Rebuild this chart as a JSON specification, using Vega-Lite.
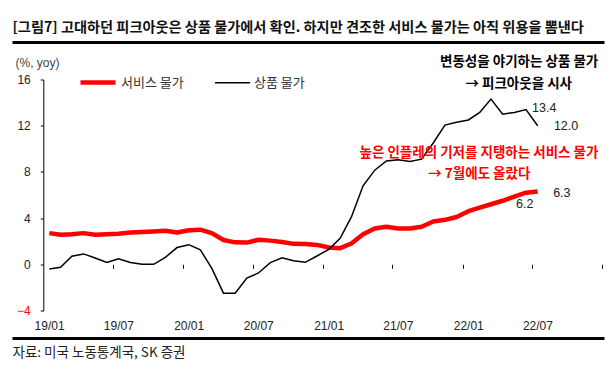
{
  "$schema": "https://vega.github.io/schema/vega-lite/v6.json",
  "autosize": "none",
  "width": 592,
  "height": 231,
  "padding": {"left": 12, "top": 79.5, "right": 10, "bottom": 59.5},
  "background": "white",
  "config": {"view": {"stroke": null}, "axis": {"grid": false}},
  "datasets": {
    "cpi": [
      {"month": "2019-01", "series": "서비스 물가", "value": 2.7},
      {"month": "2019-02", "series": "서비스 물가", "value": 2.55},
      {"month": "2019-03", "series": "서비스 물가", "value": 2.6},
      {"month": "2019-04", "series": "서비스 물가", "value": 2.7},
      {"month": "2019-05", "series": "서비스 물가", "value": 2.55},
      {"month": "2019-06", "series": "서비스 물가", "value": 2.6},
      {"month": "2019-07", "series": "서비스 물가", "value": 2.65},
      {"month": "2019-08", "series": "서비스 물가", "value": 2.75},
      {"month": "2019-09", "series": "서비스 물가", "value": 2.8},
      {"month": "2019-10", "series": "서비스 물가", "value": 2.85},
      {"month": "2019-11", "series": "서비스 물가", "value": 2.9},
      {"month": "2019-12", "series": "서비스 물가", "value": 2.75},
      {"month": "2020-01", "series": "서비스 물가", "value": 2.95},
      {"month": "2020-02", "series": "서비스 물가", "value": 3.0},
      {"month": "2020-03", "series": "서비스 물가", "value": 2.7},
      {"month": "2020-04", "series": "서비스 물가", "value": 2.1},
      {"month": "2020-05", "series": "서비스 물가", "value": 1.9},
      {"month": "2020-06", "series": "서비스 물가", "value": 1.88},
      {"month": "2020-07", "series": "서비스 물가", "value": 2.12},
      {"month": "2020-08", "series": "서비스 물가", "value": 2.05},
      {"month": "2020-09", "series": "서비스 물가", "value": 1.93},
      {"month": "2020-10", "series": "서비스 물가", "value": 1.77},
      {"month": "2020-11", "series": "서비스 물가", "value": 1.75},
      {"month": "2020-12", "series": "서비스 물가", "value": 1.68},
      {"month": "2021-01", "series": "서비스 물가", "value": 1.45},
      {"month": "2021-02", "series": "서비스 물가", "value": 1.4},
      {"month": "2021-03", "series": "서비스 물가", "value": 1.8},
      {"month": "2021-04", "series": "서비스 물가", "value": 2.6},
      {"month": "2021-05", "series": "서비스 물가", "value": 3.1},
      {"month": "2021-06", "series": "서비스 물가", "value": 3.25},
      {"month": "2021-07", "series": "서비스 물가", "value": 3.1},
      {"month": "2021-08", "series": "서비스 물가", "value": 3.1},
      {"month": "2021-09", "series": "서비스 물가", "value": 3.25},
      {"month": "2021-10", "series": "서비스 물가", "value": 3.7},
      {"month": "2021-11", "series": "서비스 물가", "value": 3.85},
      {"month": "2021-12", "series": "서비스 물가", "value": 4.1},
      {"month": "2022-01", "series": "서비스 물가", "value": 4.6},
      {"month": "2022-02", "series": "서비스 물가", "value": 4.9},
      {"month": "2022-03", "series": "서비스 물가", "value": 5.2},
      {"month": "2022-04", "series": "서비스 물가", "value": 5.5},
      {"month": "2022-05", "series": "서비스 물가", "value": 5.85},
      {"month": "2022-06", "series": "서비스 물가", "value": 6.2},
      {"month": "2022-07", "series": "서비스 물가", "value": 6.3},
      {"month": "2019-01", "series": "상품 물가", "value": -0.4},
      {"month": "2019-02", "series": "상품 물가", "value": -0.25},
      {"month": "2019-03", "series": "상품 물가", "value": 0.7},
      {"month": "2019-04", "series": "상품 물가", "value": 0.9},
      {"month": "2019-05", "series": "상품 물가", "value": 0.55},
      {"month": "2019-06", "series": "상품 물가", "value": 0.15},
      {"month": "2019-07", "series": "상품 물가", "value": 0.47},
      {"month": "2019-08", "series": "상품 물가", "value": 0.15},
      {"month": "2019-09", "series": "상품 물가", "value": 0.0},
      {"month": "2019-10", "series": "상품 물가", "value": 0.0},
      {"month": "2019-11", "series": "상품 물가", "value": 0.6},
      {"month": "2019-12", "series": "상품 물가", "value": 1.45},
      {"month": "2020-01", "series": "상품 물가", "value": 1.7},
      {"month": "2020-02", "series": "상품 물가", "value": 1.25},
      {"month": "2020-03", "series": "상품 물가", "value": -0.35},
      {"month": "2020-04", "series": "상품 물가", "value": -2.5},
      {"month": "2020-05", "series": "상품 물가", "value": -2.5},
      {"month": "2020-06", "series": "상품 물가", "value": -1.2},
      {"month": "2020-07", "series": "상품 물가", "value": -0.75},
      {"month": "2020-08", "series": "상품 물가", "value": 0.15},
      {"month": "2020-09", "series": "상품 물가", "value": 0.57},
      {"month": "2020-10", "series": "상품 물가", "value": 0.3},
      {"month": "2020-11", "series": "상품 물가", "value": 0.17},
      {"month": "2020-12", "series": "상품 물가", "value": 0.72},
      {"month": "2021-01", "series": "상품 물가", "value": 1.3},
      {"month": "2021-02", "series": "상품 물가", "value": 2.25},
      {"month": "2021-03", "series": "상품 물가", "value": 4.1},
      {"month": "2021-04", "series": "상품 물가", "value": 6.8},
      {"month": "2021-05", "series": "상품 물가", "value": 8.15},
      {"month": "2021-06", "series": "상품 물가", "value": 8.95},
      {"month": "2021-07", "series": "상품 물가", "value": 9.05},
      {"month": "2021-08", "series": "상품 물가", "value": 8.9},
      {"month": "2021-09", "series": "상품 물가", "value": 9.1},
      {"month": "2021-10", "series": "상품 물가", "value": 10.5},
      {"month": "2021-11", "series": "상품 물가", "value": 12.05},
      {"month": "2021-12", "series": "상품 물가", "value": 12.3},
      {"month": "2022-01", "series": "상품 물가", "value": 12.5},
      {"month": "2022-02", "series": "상품 물가", "value": 13.15},
      {"month": "2022-03", "series": "상품 물가", "value": 14.3},
      {"month": "2022-04", "series": "상품 물가", "value": 13.0},
      {"month": "2022-05", "series": "상품 물가", "value": 13.15},
      {"month": "2022-06", "series": "상품 물가", "value": 13.4},
      {"month": "2022-07", "series": "상품 물가", "value": 12.0}
    ],
    "notes": [
      {"date": "2022-05-29", "value": 17.5, "series": "상품 물가", "kind": "comment", "text": "변동성을 야기하는 상품 물가"},
      {"date": "2022-05-28", "value": 15.65, "series": "상품 물가", "kind": "comment", "text": "→ 피크아웃을 시사"},
      {"date": "2022-02-13", "value": 9.64, "series": "서비스 물가", "kind": "comment", "text": "높은 인플레의 기저를 지탱하는 서비스 물가"},
      {"date": "2022-02-14", "value": 7.82, "series": "서비스 물가", "kind": "comment", "text": "→ 7월에도 올랐다"},
      {"date": "2022-07-02", "value": 13.5, "series": "상품 물가", "kind": "value", "text": "13.4"},
      {"date": "2022-08-28", "value": 11.97, "series": "상품 물가", "kind": "value", "text": "12.0"},
      {"date": "2022-08-26", "value": 6.17, "series": "서비스 물가", "kind": "value", "text": "6.3"},
      {"date": "2022-05-21", "value": 5.21, "series": "서비스 물가", "kind": "value", "text": "6.2"}
    ]
  },
  "resolve": {"axis": {"x": "independent", "y": "independent"}},
  "layer": [
    {
      "data": {"name": "cpi"},
      "transform": [{"filter": "datum.series === '서비스 물가'"}],
      "mark": {"type": "line", "strokeCap": "butt", "strokeJoin": "round"},
      "encoding": {
        "x": {
          "field": "month", "type": "temporal", "timeUnit": "yearmonth", "bandPosition": 0.5,
          "scale": {"domain": [{"year": 2018, "month": 10, "date": 11}, {"year": 2023, "month": 1, "date": 6}]},
          "axis": {
            "orient": "top", "offset": 37.5, "domain": true, "domainWidth": 3, "domainColor": "#000",
            "ticks": false, "labels": false, "grid": false,
            "title": "[그림7] 고대하던 피크아웃은 상품 물가에서 확인. 하지만 견조한 서비스 물가는 아직 위용을 뽐낸다",
            "titleAnchor": "start", "titleAlign": "left", "titleFont": "Noto Sans CJK KR",
            "titleFontSize": 14.2, "titleFontWeight": "bold", "titleColor": "#111", "titlePadding": 8
          }
        },
        "y": {
          "field": "value", "type": "quantitative",
          "scale": {"domain": [-4, 16], "nice": false, "zero": false},
          "axis": {
            "orient": "left", "offset": -31.3, "values": [-4, 0, 4, 8, 12, 16],
            "domain": true, "domainColor": "#000", "domainWidth": 1,
            "ticks": true, "tickSize": 3, "tickColor": "#000", "tickWidth": 1,
            "labelPadding": 10, "labelFont": "Liberation Sans", "labelFontSize": 12,
            "labelColor": {"condition": {"test": "datum.value < 0", "value": "#ff0000"}, "value": "#222"},
            "grid": false,
            "title": "(%, yoy)", "titleAngle": 0, "titleX": -28.3, "titleY": -17.5,
            "titleAlign": "left", "titleBaseline": "middle", "titleFont": "Liberation Sans",
            "titleFontSize": 12, "titleFontWeight": "normal", "titleColor": "#444"
          }
        },
        "color": {
          "field": "series", "type": "nominal",
          "scale": {"domain": ["서비스 물가", "상품 물가"], "range": ["#ff0000", "#000000"]},
          "legend": {
            "orient": "none", "legendX": 66, "legendY": -17, "direction": "horizontal",
            "title": null, "symbolType": "stroke", "symbolSize": 1225,
            "labelFont": "Noto Sans CJK KR", "labelFontSize": 13, "labelColor": "#333",
            "labelOffset": 3, "columnPadding": 28
          }
        },
        "strokeWidth": {
          "field": "series", "type": "nominal",
          "scale": {"domain": ["서비스 물가", "상품 물가"], "range": [4.5, 1.5]},
          "legend": {
            "orient": "none", "legendX": 66, "legendY": -17, "direction": "horizontal",
            "title": null, "symbolType": "stroke", "symbolSize": 1225,
            "labelFont": "Noto Sans CJK KR", "labelFontSize": 13, "labelColor": "#333",
            "labelOffset": 3, "columnPadding": 28
          }
        }
      }
    },
    {
      "data": {"name": "cpi"},
      "transform": [{"filter": "datum.series === '상품 물가'"}],
      "mark": {"type": "line", "strokeJoin": "miter"},
      "encoding": {
        "x": {
          "field": "month", "type": "temporal", "timeUnit": "yearmonth", "bandPosition": 0.5,
          "scale": {"domain": [{"year": 2018, "month": 10, "date": 11}, {"year": 2023, "month": 1, "date": 6}]},
          "axis": {
            "orient": "bottom",
            "values": [
              {"year": 2019, "month": 1, "date": 16}, {"year": 2019, "month": 7, "date": 16},
              {"year": 2020, "month": 1, "date": 16}, {"year": 2020, "month": 7, "date": 16},
              {"year": 2021, "month": 1, "date": 16}, {"year": 2021, "month": 7, "date": 16},
              {"year": 2022, "month": 1, "date": 16}, {"year": 2022, "month": 7, "date": 16}
            ],
            "format": "%y/%m", "domain": false, "ticks": false, "grid": false,
            "labelPadding": 10, "labelFont": "Liberation Sans", "labelFontSize": 12, "labelColor": "#222",
            "labelFlush": false, "labelOverlap": false, "title": null
          }
        },
        "y": {
          "field": "value", "type": "quantitative",
          "scale": {"domain": [-4, 16], "nice": false, "zero": false},
          "axis": null
        },
        "color": {"field": "series", "type": "nominal", "scale": {"domain": ["서비스 물가", "상품 물가"], "range": ["#ff0000", "#000000"]}},
        "strokeWidth": {"field": "series", "type": "nominal", "scale": {"domain": ["서비스 물가", "상품 물가"], "range": [4.5, 1.5]}}
      }
    },
    {
      "mark": {"type": "rule", "color": "#000", "strokeWidth": 1},
      "encoding": {
        "x": {
          "datum": {"year": 2019, "month": 1, "date": 1}, "type": "temporal",
          "scale": {"domain": [{"year": 2018, "month": 10, "date": 11}, {"year": 2023, "month": 1, "date": 6}]},
          "axis": {
            "orient": "bottom", "offset": -46.2,
            "values": [
              {"year": 2019, "month": 7, "date": 1}, {"year": 2020, "month": 1, "date": 1},
              {"year": 2020, "month": 7, "date": 1}, {"year": 2021, "month": 1, "date": 1},
              {"year": 2021, "month": 7, "date": 1}, {"year": 2022, "month": 1, "date": 1},
              {"year": 2022, "month": 7, "date": 1}, {"year": 2023, "month": 1, "date": 1}
            ],
            "domain": false, "ticks": true, "tickSize": 4, "tickColor": "#000", "tickWidth": 1,
            "labels": false, "grid": false, "title": null
          }
        },
        "x2": {"datum": {"year": 2023, "month": 1, "date": 1}},
        "y": {"datum": 0, "type": "quantitative", "scale": {"domain": [-4, 16], "nice": false, "zero": false}, "axis": null}
      }
    },
    {
      "data": {"name": "notes"},
      "transform": [{"filter": "datum.kind === 'comment' && datum.series === '상품 물가'"}],
      "mark": {"type": "text", "font": "Noto Sans CJK KR", "fontWeight": "bold", "fontSize": 13.5, "align": "center", "baseline": "middle", "color": "#000"},
      "encoding": {
        "x": {
          "field": "date", "type": "temporal",
          "scale": {"domain": [{"year": 2018, "month": 10, "date": 11}, {"year": 2023, "month": 1, "date": 6}]},
          "axis": {
            "orient": "bottom", "offset": 27.5, "domain": true, "domainWidth": 3, "domainColor": "#000",
            "ticks": false, "labels": false, "grid": false,
            "title": "자료: 미국 노동통계국, SK 증권", "titleAnchor": "start", "titleAlign": "left",
            "titleFont": "Noto Sans CJK KR", "titleFontSize": 13.5, "titleFontWeight": "normal",
            "titleColor": "#222", "titlePadding": 7
          }
        },
        "y": {"field": "value", "type": "quantitative", "scale": {"domain": [-4, 16], "nice": false, "zero": false}, "axis": null},
        "text": {"field": "text"}
      }
    },
    {
      "data": {"name": "notes"},
      "transform": [{"filter": "datum.kind === 'comment' && datum.series === '서비스 물가'"}],
      "mark": {"type": "text", "font": "Noto Sans CJK KR", "fontWeight": "bold", "fontSize": 13.5, "align": "center", "baseline": "middle", "color": "#ff0000"},
      "encoding": {
        "x": {"field": "date", "type": "temporal", "scale": {"domain": [{"year": 2018, "month": 10, "date": 11}, {"year": 2023, "month": 1, "date": 6}]}, "axis": null},
        "y": {"field": "value", "type": "quantitative", "scale": {"domain": [-4, 16], "nice": false, "zero": false}, "axis": null},
        "text": {"field": "text"}
      }
    },
    {
      "data": {"name": "notes"},
      "transform": [{"filter": "datum.kind === 'value'"}],
      "mark": {"type": "text", "font": "Liberation Sans", "fontSize": 12.5, "align": "left", "baseline": "middle", "color": "#222"},
      "encoding": {
        "x": {"field": "date", "type": "temporal", "scale": {"domain": [{"year": 2018, "month": 10, "date": 11}, {"year": 2023, "month": 1, "date": 6}]}, "axis": null},
        "y": {"field": "value", "type": "quantitative", "scale": {"domain": [-4, 16], "nice": false, "zero": false}, "axis": null},
        "text": {"field": "text"}
      }
    }
  ]
}
